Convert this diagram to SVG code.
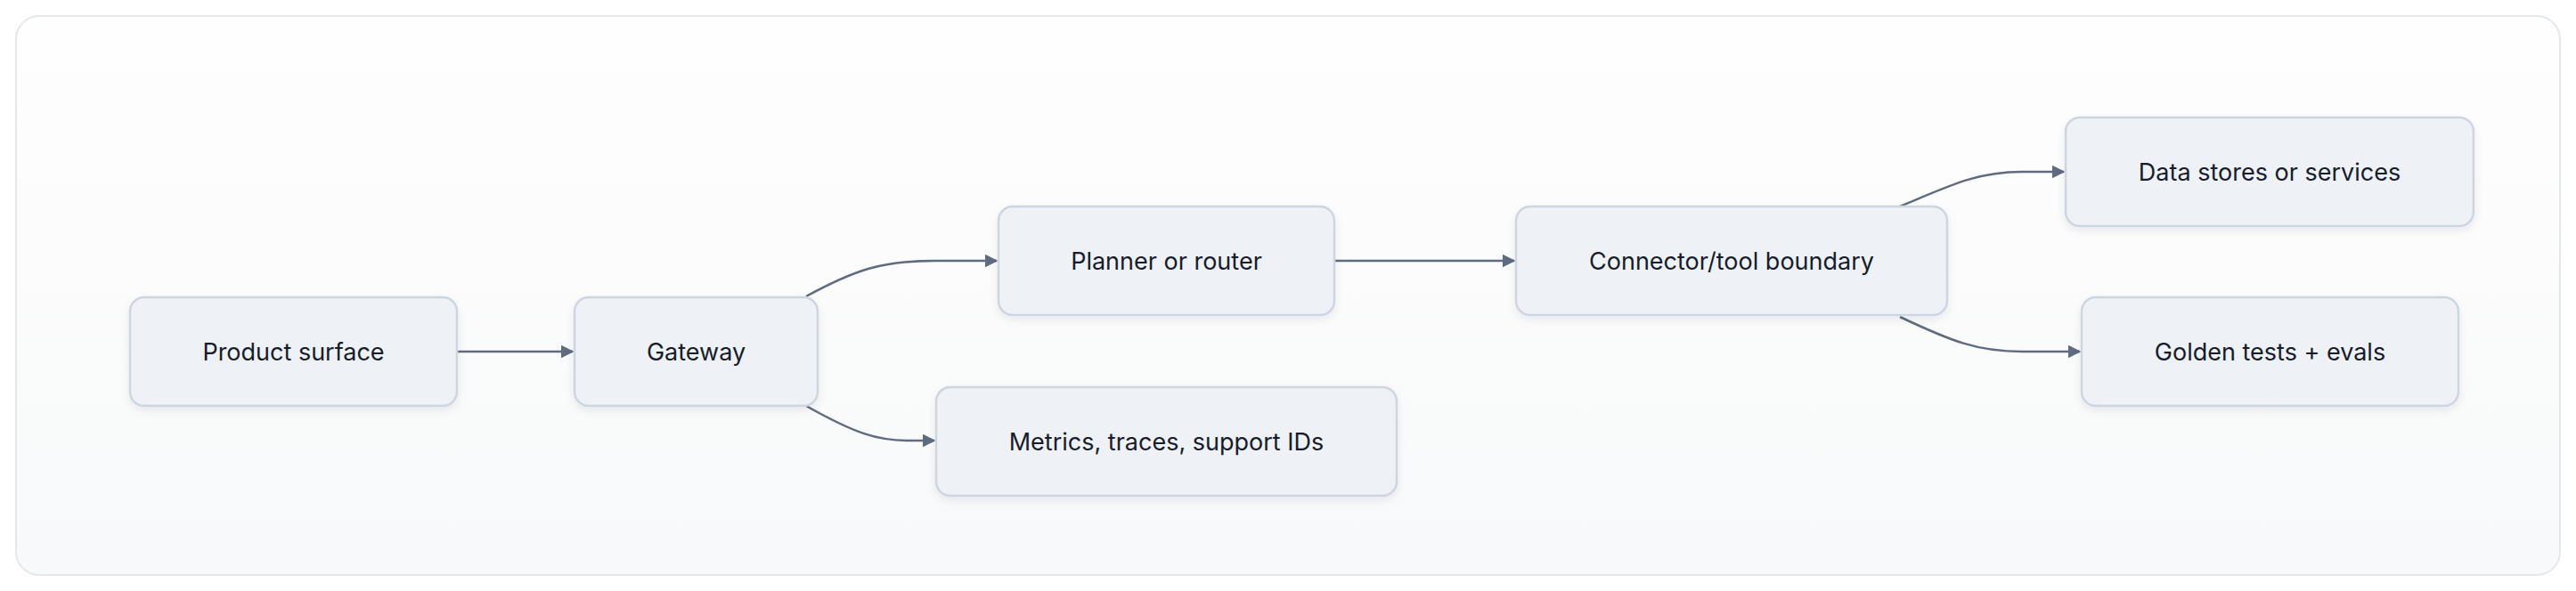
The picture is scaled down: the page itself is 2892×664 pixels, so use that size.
<svg xmlns="http://www.w3.org/2000/svg" width="2892" height="664" viewBox="0 0 2892 664">
<style>
.n rect{fill:#eef1f6;stroke:#cdd5e1;stroke-width:2.5;filter:url(#sh)}
.n text{font-family:Inter,"Liberation Sans",sans-serif;font-size:27px;fill:#161c2b;text-anchor:middle;dominant-baseline:central}
.e path{fill:none;stroke:#5f6b80;stroke-width:2.5;marker-end:url(#ar)}
</style>
<defs>
<linearGradient id="bg" x1="0" y1="0" x2="0" y2="1"><stop offset="0" stop-color="#fefefe"/><stop offset="1" stop-color="#f8f9fa"/></linearGradient>
<filter id="sh" x="-10%" y="-20%" width="120%" height="150%"><feDropShadow dx="0" dy="4" stdDeviation="5" flood-color="#1e293b" flood-opacity="0.08"/></filter>
<marker id="ar" viewBox="0 0 10 10" refX="9" refY="5" markerWidth="6" markerHeight="6" markerUnits="strokeWidth" orient="auto"><path d="M0,0 L10,5 L0,10 z" fill="#5f6b80"/></marker>
</defs>
<rect width="2892" height="664" fill="#ffffff"/>
<rect x="18" y="18" width="2856" height="628" rx="26" fill="url(#bg)" stroke="#e4e8ee" stroke-width="2"/>
<g class="e" id="connectors">
<path d="M514,395 L643,395"/>
<path d="M905,333 C960,303 990,293 1050,293 L1119,293"/>
<path d="M905,456 C960,487 985,495 1020,495 L1049,495"/>
<path d="M1499,293 L1700,293"/>
<path d="M2133,232 C2190,208 2220,193 2270,193 L2317,193"/>
<path d="M2133,356 C2190,383 2220,395 2270,395 L2335,395"/>
</g>
<g class="n" id="product"><rect x="146" y="334" width="367" height="122" rx="16"/><text x="329.5" y="395">Product surface</text></g>
<g class="n" id="gateway"><rect x="645" y="334" width="273" height="122" rx="16"/><text x="781.5" y="395">Gateway</text></g>
<g class="n" id="planner"><rect x="1121" y="232" width="377" height="122" rx="16"/><text x="1309.5" y="293">Planner or router</text></g>
<g class="n" id="metrics"><rect x="1051" y="435" width="517" height="122" rx="16"/><text x="1309.5" y="496">Metrics, traces, support IDs</text></g>
<g class="n" id="connector"><rect x="1702" y="232" width="484" height="122" rx="16"/><text x="1944" y="293">Connector/tool boundary</text></g>
<g class="n" id="data"><rect x="2319" y="132" width="458" height="122" rx="16"/><text x="2548" y="193">Data stores or services</text></g>
<g class="n" id="golden"><rect x="2337" y="334" width="423" height="122" rx="16"/><text x="2548.5" y="395">Golden tests + evals</text></g>
</svg>
